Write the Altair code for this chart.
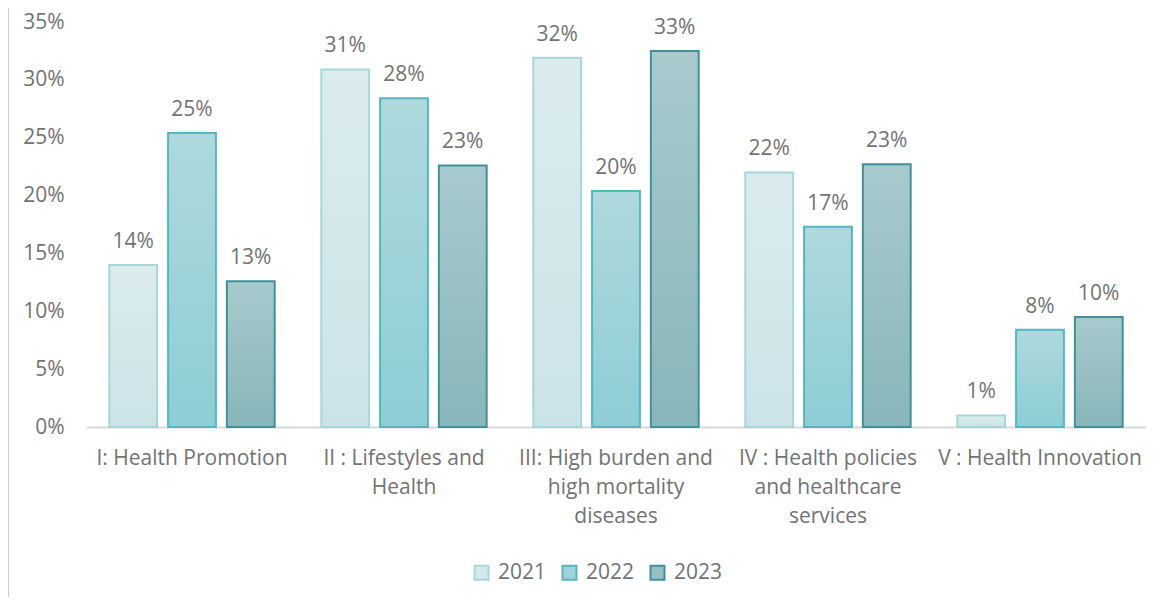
import altair as alt
import pandas as pd

categories = [
    "I: Health Promotion",
    "II : Lifestyles and Health",
    "III: High burden and high mortality diseases",
    "IV : Health policies and healthcare services",
    "V : Health Innovation",
]
label_lines = [
    ["I: Health Promotion"],
    ["II : Lifestyles and", "Health"],
    ["III: High burden and", "high mortality", "diseases"],
    ["IV : Health policies", "and healthcare", "services"],
    ["V : Health Innovation"],
]
years = ["2021", "2022", "2023"]
values_2021 = [0.140, 0.309, 0.319, 0.220, 0.010]
values_2022 = [0.254, 0.284, 0.204, 0.173, 0.084]
values_2023 = [0.126, 0.226, 0.325, 0.227, 0.095]

fill_top = {"2021": "#dbecef", "2022": "#aed9dd", "2023": "#a7cacd"}
fill_bottom = {"2021": "#cbe3e7", "2022": "#8ecdd5", "2023": "#88b6ba"}
stroke_cols = {"2021": "#a9d5da", "2022": "#55b7c1", "2023": "#43909a"}
legend_fill = ["#d3e8eb", "#9ed3d9", "#98c0c4"]

rows = []
for yr, vals in zip(years, [values_2021, values_2022, values_2023]):
    for c, v in zip(categories, vals):
        rows.append({"category": c, "year": yr, "value": v})
df = pd.DataFrame(rows)

label_expr = ""
for c, lines in zip(categories, label_lines):
    arr = "[" + ",".join("'" + l + "'" for l in lines) + "]"
    label_expr += f"datum.value == '{c}' ? {arr} : "
label_expr += "datum.value"

FONT = "Open Sans"
TXT = "#737373"
FS = 21

x_enc = alt.X(
    "category:N",
    sort=categories,
    scale=alt.Scale(paddingInner=0.22, paddingOuter=0.11),
    axis=alt.Axis(
        title=None, labelAngle=0, ticks=False, domainColor="#d9d9d9", domainWidth=2,
        labelExpr=label_expr, labelFontSize=FS, labelFont=FONT, labelColor=TXT,
        labelPadding=20, labelLineHeight=29, labelBaseline="top", labelLimit=300,
    ),
)
xoff = alt.XOffset("year:N", sort=years, scale=alt.Scale(domain=years, paddingInner=0.186, paddingOuter=0))
y_enc = alt.Y(
    "value:Q",
    scale=alt.Scale(domain=[0, 0.35], nice=False),
    axis=alt.Axis(
        title=None, format=".0%", values=[0, 0.05, 0.1, 0.15, 0.2, 0.25, 0.3, 0.35],
        grid=False, ticks=False, domain=False, labelFontSize=FS, labelFont=FONT,
        labelColor=TXT, labelPadding=22,
    ),
)

base = alt.Chart(df)
layers = []
for yr in years:
    grad = alt.Gradient(
        gradient="linear",
        stops=[alt.GradientStop(color=fill_top[yr], offset=0), alt.GradientStop(color=fill_bottom[yr], offset=1)],
        x1=0, x2=0, y1=0, y2=1,
    )
    layers.append(
        base.transform_filter(alt.datum.year == yr)
        .mark_bar(color=grad, stroke=stroke_cols[yr], strokeWidth=2)
        .encode(x=x_enc, xOffset=xoff, y=y_enc)
    )

labels = base.mark_text(dy=-17, baseline="alphabetic", fontSize=FS, font=FONT, color=TXT).encode(
    x=x_enc, xOffset=xoff, y=y_enc, text=alt.Text("value:Q", format=".0%")
)

leg = dict(title=None, orient="none", legendX=385, legendY=540,
           direction="horizontal", symbolType="square", symbolSize=196,
           symbolOpacity=1, symbolStrokeWidth=2, labelFontSize=FS,
           labelFont=FONT, labelColor=TXT, columnPadding=11, labelOffset=6)

legend_layer = base.mark_square(opacity=0).encode(
    x=x_enc, xOffset=xoff, y=y_enc,
    fill=alt.Fill("year:N", sort=years, scale=alt.Scale(domain=years, range=legend_fill),
                  legend=alt.Legend(**leg)),
    stroke=alt.Stroke("year:N", sort=years, scale=alt.Scale(domain=years, range=[stroke_cols[y] for y in years]),
                      legend=alt.Legend(**leg)),
)

border = alt.Chart(pd.DataFrame({"a": [0]})).mark_rule(color="#cccccc", strokeWidth=2).encode(
    x=alt.value(-78), y=alt.value(-22), y2=alt.value(583)
)

chart = alt.layer(*layers, labels, legend_layer, border).properties(
    width=1060, height=405,
    autosize=alt.AutoSizeParams(type="none"),
    padding={"left": 78, "top": 14, "right": 0, "bottom": 170},
).configure_view(stroke=None)

chart.save("out.html", embed_options={"renderer": "svg", "actions": False})
